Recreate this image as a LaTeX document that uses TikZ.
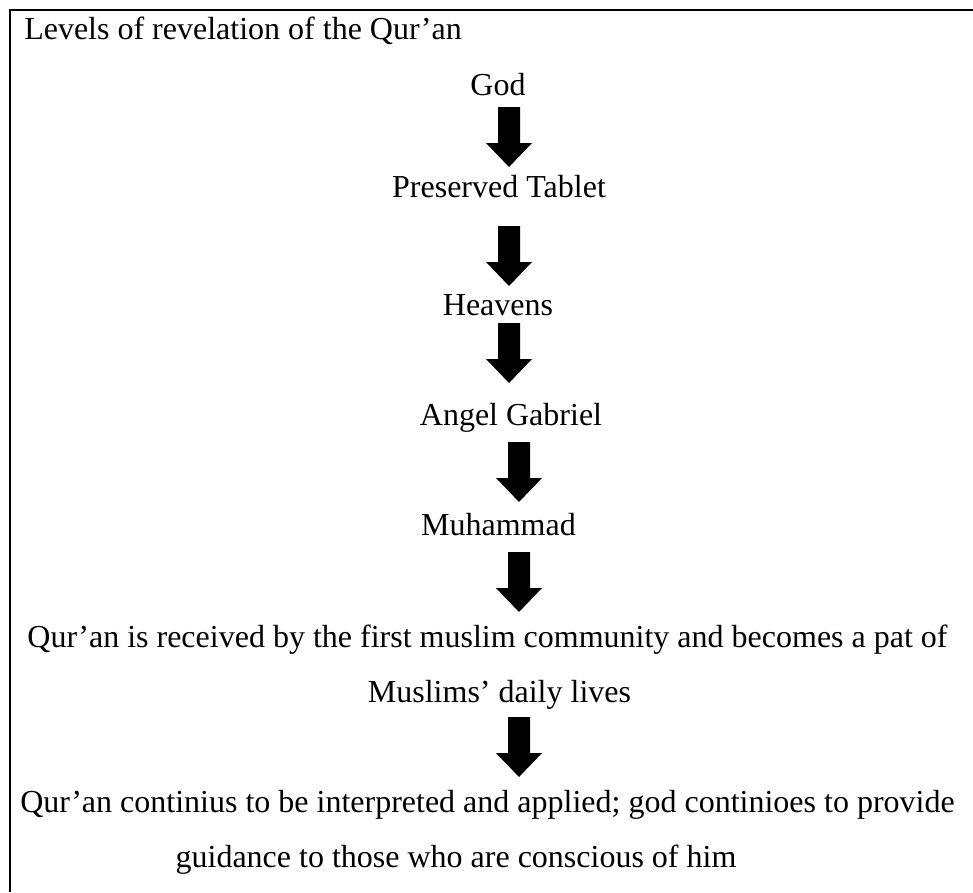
\documentclass[tikz,border=0pt]{standalone}
\usepackage{fontspec}
\setmainfont{Liberation Serif}
\usetikzlibrary{positioning}

\begin{document}
\begin{tikzpicture}[x=0.75pt,y=-0.75pt,
 lvl/.style={inner sep=0pt,anchor=base,font=\fontsize{24}{29}\selectfont},
 blk/.pic={\fill (-11,0) -- (11,0) -- (11,36) -- (23,36) -- (0,60) -- (-23,36) -- (-11,36) -- cycle;}]
\useasboundingbox (0,0) rectangle (973,892);
\draw[line width=1.5pt] (10,892) -- (10,10) -- (973,10);
\node[lvl,anchor=base west] (title) at (24,40) {Levels of revelation of the Qur’an};
\node[lvl] (god) at (498,95) {God};
\node[lvl] (tab) at (499,197) {Preserved Tablet};
\node[lvl] (hev) at (498,315) {Heavens};
\node[lvl] (gab) at (511,425) {Angel Gabriel};
\node[lvl] (muh) at (498.5,535) {Muhammad};
\node[lvl] (rec1) at (487.5,647) {Qur’an is received by the first muslim community and becomes a pat of};
\node[lvl] (rec2) at (499.5,702) {Muslims’ daily lives};
\node[lvl] (int1) at (487.5,812) {Qur’an continius to be interpreted and applied; god continioes to provide};
\node[lvl] (int2) at (456,867) {guidance to those who are conscious of him};
\pic (a1) at (509,107) {blk};
\pic (a2) at (509,226) {blk};
\pic (a3) at (509,323) {blk};
\pic (a4) at (519,442) {blk};
\pic (a5) at (519,552) {blk};
\pic (a6) at (519,717) {blk};
\end{tikzpicture}
\end{document}
